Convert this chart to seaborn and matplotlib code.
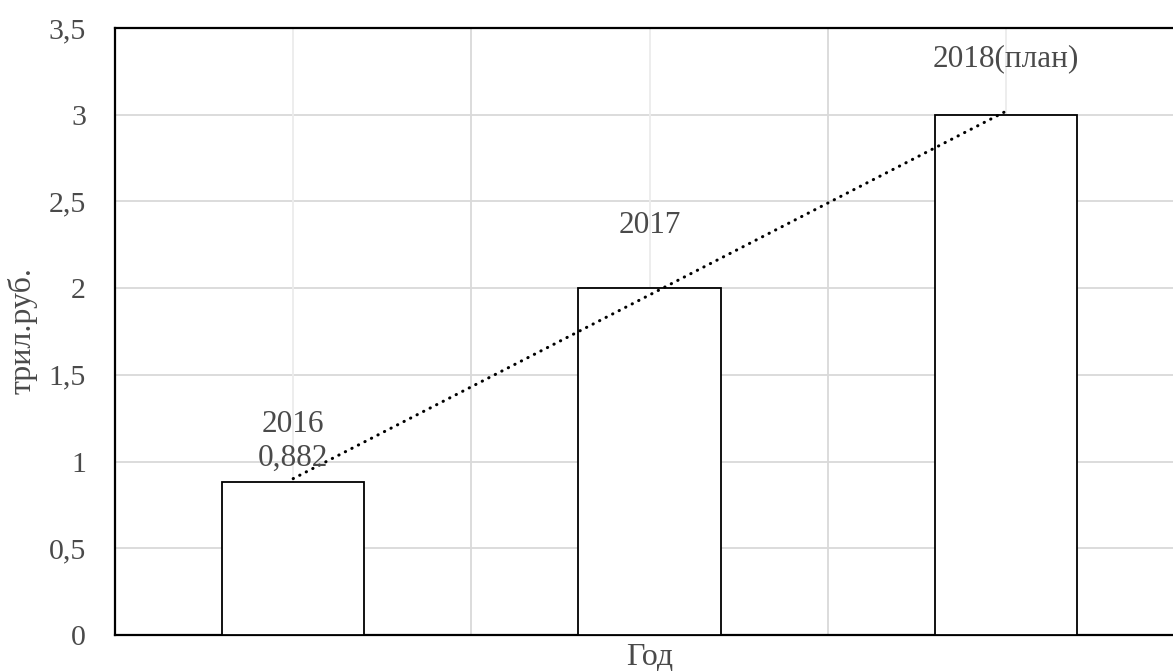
import numpy as np
import pandas as pd
import matplotlib
matplotlib.use("Agg")
import matplotlib.pyplot as plt
import seaborn as sns

categories = ["2016", "2017", "2018"]
values = [0.882, 2.0, 3.0]
bar_labels = ["2016\n0,882", "2017", "2018(план)"]
label_offsets_px = [9, 48, 41]
y_ticks = [0, 0.5, 1, 1.5, 2, 2.5, 3, 3.5]

sns.set_theme(style="white")
plt.rcParams['font.family'] = ['Liberation Serif', 'DejaVu Serif']

W, H = 1173, 671
fig = plt.figure(figsize=(W / 100, H / 100), dpi=100)
left, right, top, bottom = 115, 1184, 28, 635
ax = fig.add_axes([left / W, 1 - bottom / H, (right - left) / W, (bottom - top) / H])

df = pd.DataFrame({"year": categories, "value": values})
sns.barplot(data=df, x="year", y="value", color="white", edgecolor="black",
            linewidth=1.3, width=0.4, ax=ax, zorder=3, saturation=1)

# linear trend
xs = np.arange(len(values))
k, b = np.polyfit(xs, values, 1)
ax.plot(xs, k * xs + b, color="black", lw=2.2, linestyle=(0, (0.1, 2.3)),
        dash_capstyle="round", zorder=4)

ax.set_xlim(-0.5, len(values) - 0.5)
ax.set_ylim(0, 3.5)
ax.set_yticks(y_ticks)
ax.set_yticklabels([f"{t:g}".replace(".", ",") for t in y_ticks])
ax.set_xticks([])

# gridlines
for t in y_ticks[1:-1]:
    ax.axhline(t, color="#d9d9d9", lw=1.3, zorder=1)
for xv in [0.5, 1.5]:
    ax.axvline(xv, color="#d9d9d9", lw=1.3, zorder=1)
for xv in xs:
    ax.axvline(xv, color="#ececec", lw=1.3, zorder=1)

txt_color = "#4a4a4a"
for i, (lab, v) in enumerate(zip(bar_labels, values)):
    ax.annotate(lab, (i, v), xytext=(0, label_offsets_px[i] * 0.72), textcoords="offset points",
                ha="center", va="bottom", fontsize=22.5, color=txt_color,
                linespacing=1.25, zorder=5)

ax.tick_params(axis="y", labelsize=21.5, labelcolor=txt_color, length=0, pad=21)
ax.set_ylabel("трил.руб.", fontsize=23, color=txt_color)
ax.yaxis.set_label_coords(-0.072, 0.502)
ax.set_xlabel("Год", fontsize=23, color=txt_color, labelpad=6)

for s in ax.spines.values():
    s.set_color("black")
    s.set_linewidth(1.6)
    s.set_visible(True)

fig.savefig("out.png", dpi=100, facecolor="white")
